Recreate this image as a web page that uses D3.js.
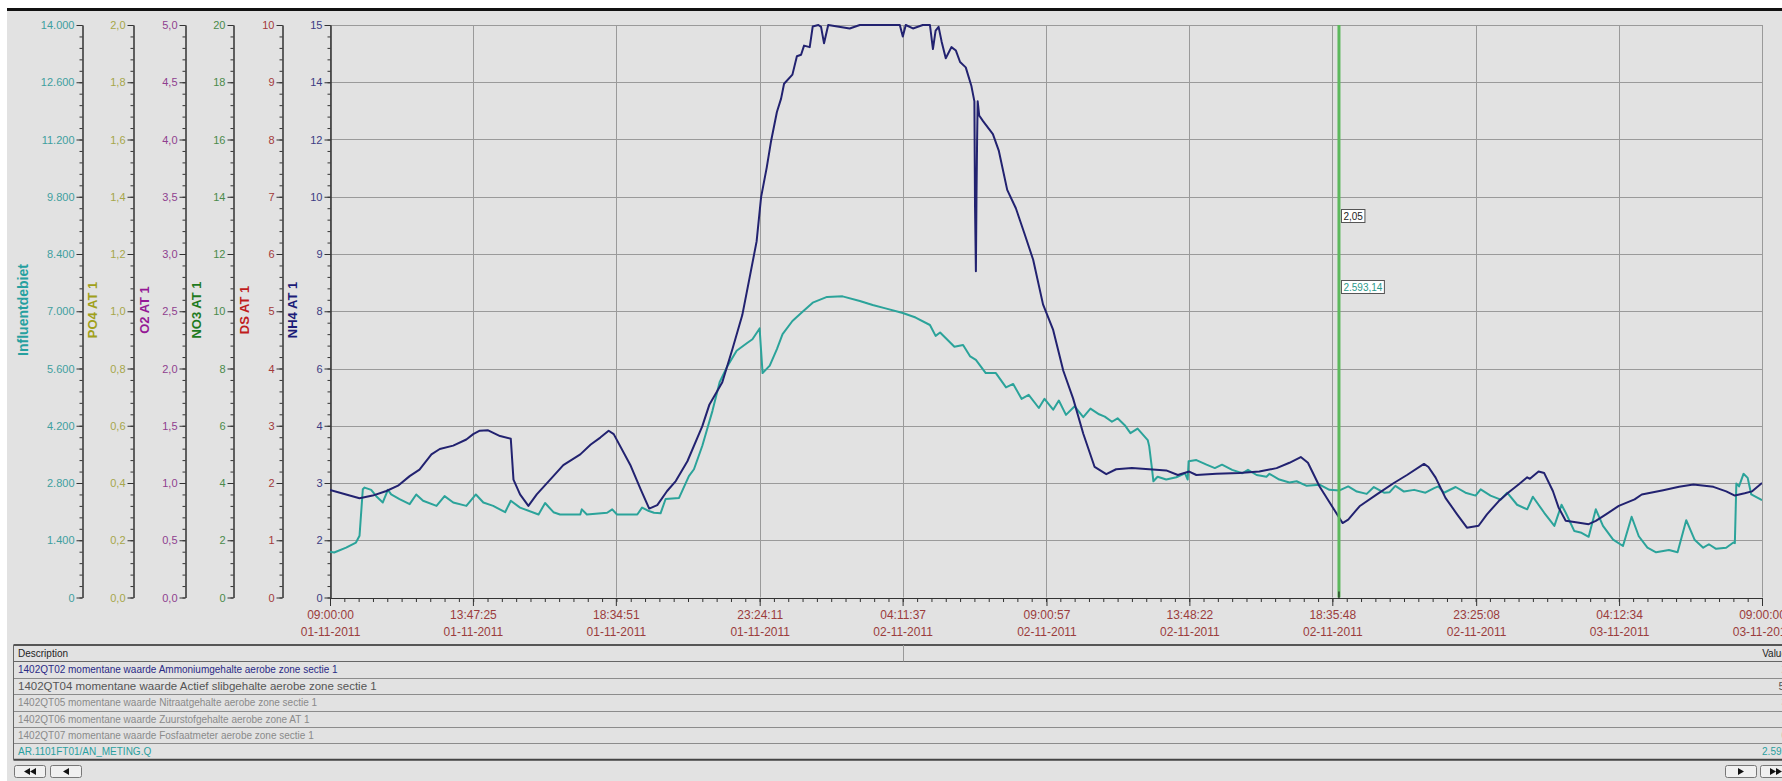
<!DOCTYPE html>
<html>
<head>
<meta charset="utf-8">
<script src="https://cdn.jsdelivr.net/npm/d3@7"></script>
<style>
body { margin: 0; background: #fff; }
svg { display: block; font-family: "Liberation Sans", Arial, sans-serif; }
</style>
</head>
<body>
<svg id="chart" width="1782" height="781"></svg>
<script>
// ---- data (hours after 01-11-2011 09:00:00, value) ----
var nh4Data = [[0,2.82],[0.54,2.70],[0.99,2.60],[1.43,2.67],[1.89,2.79],[2.28,2.93],[2.67,3.18],[3.00,3.35],[3.40,3.75],[3.68,3.89],[4.13,3.98],[4.57,4.14],[4.80,4.28],[5.02,4.37],[5.30,4.38],[5.70,4.23],[6.06,4.16],[6.15,3.09],[6.37,2.70],[6.65,2.40],[6.93,2.70],[7.38,3.09],[7.82,3.47],[8.39,3.75],[8.74,4.01],[9.06,4.19],[9.34,4.37],[9.51,4.28],[10.08,3.45],[10.41,2.84],[10.70,2.33],[10.97,2.42],[11.30,2.79],[11.59,3.05],[11.98,3.57],[12.48,4.49],[12.72,5.06],[13.15,5.64],[13.49,6.51],[13.82,7.40],[14.06,8.36],[14.30,9.33],[14.45,10.49],[14.64,11.27],[14.78,11.94],[14.98,12.72],[15.12,13.07],[15.22,13.46],[15.50,13.70],[15.65,14.18],[15.79,14.22],[15.89,14.46],[16.08,14.42],[16.18,14.96],[16.37,15],[16.46,14.95],[16.56,14.52],[16.70,15],[17.42,14.91],[17.76,15],[19.10,15],[19.20,14.70],[19.30,15],[19.54,14.91],[19.87,15],[20.11,15],[20.21,14.37],[20.30,14.85],[20.40,14.95],[20.50,14.57],[20.64,14.13],[20.83,14.42],[20.98,14.33],[21.12,14.03],[21.31,13.89],[21.50,13.40],[21.60,13.00],[21.62,10.29],[21.65,8.55],[21.67,10.5],[21.69,11.94],[21.71,13.00],[21.76,12.63],[21.89,12.48],[22.22,12.14],[22.42,11.70],[22.70,10.68],[22.99,10.20],[23.28,9.53],[23.57,8.85],[23.90,7.68],[24.24,7.01],[24.58,5.94],[24.91,5.21],[25.25,4.29],[25.63,3.42],[26.02,3.23],[26.35,3.36],[26.88,3.39],[27.46,3.36],[28.03,3.33],[28.42,3.21],[28.80,3.30],[29.04,3.21],[29.71,3.24],[30.48,3.26],[31.15,3.30],[31.73,3.39],[32.16,3.53],[32.54,3.68],[32.78,3.53],[33.17,2.91],[33.65,2.31],[33.94,1.95],[34.13,2.04],[34.51,2.39],[35.09,2.70],[35.66,3.00],[36.10,3.21],[36.67,3.50],[36.82,3.42],[37.06,3.14],[37.39,2.61],[37.78,2.18],[38.11,1.83],[38.50,1.88],[38.78,2.18],[39.17,2.52],[39.50,2.75],[39.84,2.96],[40.13,3.15],[40.22,3.11],[40.51,3.30],[40.70,3.26],[40.99,2.79],[41.18,2.36],[41.42,2.01],[41.76,1.97],[42.19,1.92],[42.43,2.01],[42.77,2.18],[43.20,2.40],[43.73,2.57],[43.97,2.70],[44.69,2.81],[45.22,2.90],[45.70,2.96],[46.37,2.90],[46.80,2.78],[47.09,2.67],[47.42,2.73],[47.66,2.78],[48,3.00]];

var flowData = [[0,1120],[0.14,1100],[0.54,1218],[0.87,1344],[0.99,1512],[1.10,2646],[1.16,2688],[1.38,2632],[1.55,2478],[1.77,2324],[1.94,2632],[2.05,2520],[2.33,2408],[2.67,2282],[2.89,2520],[3.12,2366],[3.57,2240],[3.84,2478],[4.13,2324],[4.57,2240],[4.89,2520],[5.14,2324],[5.47,2240],[5.87,2086],[6.06,2366],[6.37,2198],[6.99,2030],[7.21,2310],[7.49,2086],[7.71,2030],[8.39,2030],[8.44,2156],[8.61,2030],[9.29,2072],[9.46,2156],[9.62,2030],[10.30,2030],[10.46,2198],[10.69,2114],[10.86,2072],[11.08,2058],[11.25,2408],[11.70,2436],[12.03,2968],[12.20,3136],[12.48,3710],[12.67,4186],[12.82,4564],[13.06,5264],[13.30,5628],[13.63,6034],[13.97,6216],[14.16,6314],[14.40,6580],[14.50,5488],[14.74,5670],[14.98,6076],[15.17,6440],[15.50,6762],[15.84,6986],[16.18,7210],[16.66,7350],[17.18,7364],[17.76,7252],[18.19,7154],[18.62,7070],[19.20,6958],[19.63,6846],[20.11,6664],[20.30,6398],[20.45,6482],[20.93,6132],[21.22,6174],[21.46,5894],[21.65,5810],[21.98,5488],[22.32,5488],[22.66,5138],[22.90,5222],[23.18,4858],[23.42,4956],[23.76,4634],[23.95,4858],[24.24,4592],[24.43,4816],[24.67,4466],[24.96,4676],[25.25,4410],[25.49,4620],[25.78,4480],[25.97,4424],[26.21,4298],[26.40,4382],[26.64,4214],[26.83,4018],[27.07,4130],[27.41,3850],[27.46,3696],[27.55,3164],[27.60,2842],[27.74,2954],[28.03,2884],[28.37,2940],[28.66,3038],[28.75,2884],[28.78,3332],[29.04,3360],[29.38,3248],[29.66,3164],[29.90,3248],[30.24,3122],[30.58,3038],[30.77,3122],[31.06,2996],[31.39,2954],[31.49,3024],[31.82,2884],[32.16,2814],[32.40,2842],[32.74,2730],[33.17,2758],[33.50,2632],[33.84,2618],[34.13,2716],[34.42,2590],[34.75,2534],[34.99,2702],[35.33,2562],[35.52,2576],[35.71,2730],[36.00,2590],[36.34,2632],[36.72,2562],[37.01,2674],[37.15,2716],[37.34,2562],[37.73,2702],[38.06,2562],[38.40,2492],[38.57,2646],[38.90,2492],[39.24,2394],[39.46,2562],[39.79,2268],[40.13,2156],[40.32,2464],[40.70,2072],[41.04,1750],[41.28,2268],[41.42,2072],[41.71,1624],[41.95,1582],[42.19,1484],[42.43,2156],[42.67,1750],[43.01,1414],[43.34,1260],[43.63,1974],[43.87,1498],[44.16,1218],[44.45,1106],[44.88,1162],[45.17,1106],[45.46,1890],[45.74,1414],[46.03,1218],[46.22,1302],[46.46,1190],[46.80,1218],[47.04,1344],[47.09,1330],[47.14,2786],[47.23,2716],[47.38,3024],[47.52,2926],[47.64,2520],[48,2380]];

var timeLabels = ["09:00:00","13:47:25","18:34:51","23:24:11","04:11:37","09:00:57","13:48:22","18:35:48","23:25:08","04:12:34","09:00:00"];
var dateLabels = ["01-11-2011","01-11-2011","01-11-2011","01-11-2011","02-11-2011","02-11-2011","02-11-2011","02-11-2011","02-11-2011","03-11-2011","03-11-2011"];

var flowTicks = ["0","1.400","2.800","4.200","5.600","7.000","8.400","9.800","11.200","12.600","14.000"];
var po4Ticks = ["0,0","0,2","0,4","0,6","0,8","1,0","1,2","1,4","1,6","1,8","2,0"];
var o2Ticks = ["0,0","0,5","1,0","1,5","2,0","2,5","3,0","3,5","4,0","4,5","5,0"];
var no3Ticks = ["0","2","4","6","8","10","12","14","16","18","20"];
var dsTicks = ["0","1","2","3","4","5","6","7","8","9","10"];
var nh4Ticks = ["0","2","3","4","6","8","9","10","12","14","15"];

var descriptions = [
  "1402QT02 momentane waarde Ammoniumgehalte aerobe zone sectie 1",
  "1402QT04 momentane waarde Actief slibgehalte aerobe zone sectie 1",
  "1402QT05 momentane waarde Nitraatgehalte aerobe zone sectie 1",
  "1402QT06 momentane waarde Zuurstofgehalte aerobe zone AT 1",
  "1402QT07 momentane waarde Fosfaatmeter aerobe zone sectie 1",
  "AR.1101FT01/AN_METING.Q"
];
var rowValues = ["2,05", "5,12", "3,41", "1,36", "0,27", "2.593,14"];

var cursorTime = "02-11-2011 18:49:12";
var cursorNH4 = "2,05", cursorFlow = "2.593,14";

// ---- layout ----
var svg = d3.select("#chart");
var plot = {left: 330, right: 1762, top: 25, bottom: 597.5};
var parseTime = d3.timeParse("%d-%m-%Y %H:%M:%S");
var start = parseTime("01-11-2011 09:00:00"),
    end = parseTime("03-11-2011 09:00:00");
function hourToDate(h) { return new Date(+start + h * 3600e3); }

// panel background + black top rule
svg.append("rect").attr("x", 7).attr("y", 9).attr("width", 1775).attr("height", 772).attr("fill", "#e2e2e2");
svg.append("rect").attr("x", 7).attr("y", 8).attr("width", 1775).attr("height", 3).attr("fill", "#111");

var x = d3.scaleTime().domain([start, end]).range([plot.left, plot.right]);
var yNH4 = d3.scaleLinear().domain([0, 15]).range([plot.bottom, plot.top]);
var yFlow = d3.scaleLinear().domain([0, 14000]).range([plot.bottom, plot.top]);

var tickTimes = timeLabels.map(function(t, i) { return parseTime(dateLabels[i] + " " + t); });
var minorTimes = d3.range(101).map(function(i) { return new Date(+start + i * (end - start) / 100); });

// grid
var grid = svg.append("g").attr("stroke", "#9a9a9a").attr("stroke-width", 1);
grid.selectAll("line.h").data(d3.range(11)).enter().append("line")
    .attr("x1", plot.left).attr("x2", plot.right)
    .attr("y1", function(d) { return Math.round(yNH4(d * 1.5)) + 0.5; })
    .attr("y2", function(d) { return Math.round(yNH4(d * 1.5)) + 0.5; });
grid.selectAll("line.v").data(tickTimes).enter().append("line")
    .attr("y1", plot.top).attr("y2", plot.bottom)
    .attr("x1", function(d) { return Math.round(x(d)) + 0.5; })
    .attr("x2", function(d) { return Math.round(x(d)) + 0.5; });

// y axes
var axesDef = [
  {title: "Influentdebiet", max: 14000, labels: flowTicks, x: 82, tx: 23, color: "#3f9f9f", tcolor: "#26a0a0", tsize: 14},
  {title: "PO4 AT 1", max: 2, labels: po4Ticks, x: 133, tx: 92.5, color: "#a6a64a", tcolor: "#a0a01a", tsize: 13},
  {title: "O2 AT 1", max: 5, labels: o2Ticks, x: 185, tx: 144, color: "#8f3f8f", tcolor: "#951895", tsize: 13},
  {title: "NO3 AT 1", max: 20, labels: no3Ticks, x: 233, tx: 196, color: "#4a8a4a", tcolor: "#1f7a1f", tsize: 13},
  {title: "DS AT 1", max: 10, labels: dsTicks, x: 282, tx: 244, color: "#a33a3a", tcolor: "#c01c1c", tsize: 13},
  {title: "NH4 AT 1", max: 15, labels: nh4Ticks, x: 330, tx: 292, color: "#3c3c82", tcolor: "#1c1c78", tsize: 13}
];

axesDef.forEach(function(a) {
  var s = d3.scaleLinear().domain([0, a.max]).range([plot.bottom, plot.top]);
  var g = svg.append("g").attr("transform", "translate(" + (a.x + 0.5) + ",0)");
  g.append("g").call(d3.axisLeft(s)
      .tickValues(d3.range(51).map(function(i) { return i * a.max / 50; }))
      .tickSize(3).tickSizeOuter(0).tickFormat(""));
  g.append("g").call(d3.axisLeft(s)
      .tickValues(d3.range(11).map(function(i) { return i * a.max / 10; }))
      .tickSize(6).tickSizeOuter(0).tickPadding(2)
      .tickFormat(function(d, i) { return a.labels[i]; }));
  g.selectAll("path.domain").attr("stroke", "#333");
  g.selectAll(".tick line").attr("stroke", "#333");
  g.selectAll(".tick text").attr("fill", a.color).attr("font-size", 11)
      .attr("font-family", "Liberation Sans, Arial, sans-serif");
  svg.append("text")
      .attr("transform", "translate(" + a.tx + ",310) rotate(-90)")
      .attr("text-anchor", "middle").attr("dominant-baseline", "central")
      .attr("font-weight", "bold").attr("font-size", a.tsize)
      .attr("fill", a.tcolor).text(a.title);
});

// x axis
var xg = svg.append("g").attr("transform", "translate(0," + (plot.bottom + 0.5) + ")");
xg.append("g").call(d3.axisBottom(x).tickValues(minorTimes).tickSize(4).tickSizeOuter(0).tickFormat(""));
var xMajor = xg.append("g").call(d3.axisBottom(x).tickValues(tickTimes).tickSize(8).tickSizeOuter(0).tickFormat(""));
xg.selectAll("path.domain").attr("stroke", "#333");
xg.selectAll(".tick line").attr("stroke", "#333");
xMajor.selectAll(".tick text").remove();
xMajor.selectAll(".tick").append("text")
    .attr("fill", "#9b3c3c").attr("text-anchor", "middle").attr("font-size", 12)
    .attr("font-family", "Liberation Sans, Arial, sans-serif")
    .each(function(d, i) {
      var t = d3.select(this);
      t.append("tspan").attr("x", 0).attr("y", 21).text(timeLabels[i]);
      t.append("tspan").attr("x", 0).attr("y", 38).text(dateLabels[i]);
    });

// series
svg.append("clipPath").attr("id", "plotclip").append("rect")
    .attr("x", plot.left).attr("y", plot.top - 1)
    .attr("width", plot.right - plot.left).attr("height", plot.bottom - plot.top + 1);

var lineNH4 = d3.line()
    .x(function(d) { return x(hourToDate(d[0])); })
    .y(function(d) { return yNH4(d[1]); });
var lineFlow = d3.line()
    .x(function(d) { return x(hourToDate(d[0])); })
    .y(function(d) { return yFlow(d[1]); });

var series = svg.append("g").attr("clip-path", "url(#plotclip)");
series.append("path").datum(flowData).attr("d", lineFlow)
    .attr("fill", "none").attr("stroke", "#2ba39a").attr("stroke-width", 2).attr("stroke-linejoin", "round");
series.append("path").datum(nh4Data).attr("d", lineNH4)
    .attr("fill", "none").attr("stroke", "#222270").attr("stroke-width", 2).attr("stroke-linejoin", "round");

// cursor
var cx = x(parseTime(cursorTime));
svg.append("line").attr("x1", cx).attr("x2", cx).attr("y1", plot.top).attr("y2", plot.bottom)
    .attr("stroke", "#5cb85c").attr("stroke-width", 3);
svg.append("line").attr("x1", cx).attr("x2", cx).attr("y1", plot.bottom - 6).attr("y2", plot.bottom + 1)
    .attr("stroke", "#111").attr("stroke-width", 1);

function cursorLabel(txt, y, col) {
  var g = svg.append("g").attr("transform", "translate(" + (cx + 2.5) + "," + y + ")");
  var t = g.append("text").attr("x", 2).attr("y", 10).attr("font-size", 10)
      .attr("fill", col).text(txt);
  var w = t.node().getComputedTextLength();
  g.insert("rect", "text").attr("x", 0).attr("y", 0).attr("width", w + 4).attr("height", 13)
      .attr("fill", "#fff").attr("stroke", "#555").attr("stroke-width", 1);
}
cursorLabel(cursorNH4, 209.5, "#222");
cursorLabel(cursorFlow, 280.5, "#2a9a8a");

// ---- table ----
var tbl = svg.append("g");
var tTop = 645, rowH = 16.4, tLeft = 13.5, colDiv = 903.5;
var rowColors = ["#2a2a86", "#555", "#8a8a8a", "#8a8a8a", "#8a8a8a", "#2a9f9f"];
var rowSizes = [10, 11.5, 10, 10, 10, 10];

tbl.append("line").attr("x1", tLeft).attr("x2", 1782).attr("y1", tTop).attr("y2", tTop)
    .attr("stroke", "#555").attr("stroke-width", 2);
d3.range(1, 7).forEach(function(i) {
  tbl.append("line").attr("x1", tLeft).attr("x2", 1782)
      .attr("y1", Math.round(tTop + i * rowH) + 0.5).attr("y2", Math.round(tTop + i * rowH) + 0.5)
      .attr("stroke", i === 1 ? "#666" : "#8c8c8c").attr("stroke-width", 1);
});
tbl.append("line").attr("x1", tLeft).attr("x2", 1782).attr("y1", tTop + 7 * rowH).attr("y2", tTop + 7 * rowH)
    .attr("stroke", "#444").attr("stroke-width", 2);
tbl.append("line").attr("x1", tLeft).attr("x2", tLeft).attr("y1", tTop).attr("y2", tTop + 7 * rowH)
    .attr("stroke", "#666");
tbl.append("line").attr("x1", colDiv).attr("x2", colDiv).attr("y1", tTop).attr("y2", tTop + rowH)
    .attr("stroke", "#999");

tbl.append("text").attr("x", 18).attr("y", tTop + rowH - 4.5).attr("font-size", 10)
    .attr("fill", "#222").text("Description");
tbl.append("text").attr("x", 1787).attr("y", tTop + rowH - 4.5).attr("font-size", 10)
    .attr("text-anchor", "end").attr("fill", "#222").text("Value");

descriptions.forEach(function(d, i) {
  var base = tTop + (i + 2) * rowH - 4.5;
  tbl.append("text").attr("x", 18).attr("y", base).attr("font-size", rowSizes[i])
      .attr("fill", rowColors[i]).text(d);
  tbl.append("text").attr("x", 1801).attr("y", base).attr("font-size", rowSizes[i])
      .attr("text-anchor", "end").attr("fill", rowColors[i]).text(rowValues[i]);
});

// navigation buttons
function button(bx, dir, dbl) {
  var g = svg.append("g").attr("transform", "translate(" + bx + ",765.5)");
  g.append("rect").attr("width", 31).attr("height", 12).attr("rx", 2)
      .attr("fill", "#f0f0f0").attr("stroke", "#777");
  var offs = dbl ? [-3, 3] : [0];
  offs.forEach(function(o) {
    var c = 15.5 + o;
    var p = dir < 0 ? "M" + (c - 3) + ",6 L" + (c + 3) + ",2.5 L" + (c + 3) + ",9.5 Z"
                    : "M" + (c + 3) + ",6 L" + (c - 3) + ",2.5 L" + (c - 3) + ",9.5 Z";
    g.append("path").attr("d", p).attr("fill", "#111");
  });
}
button(14.5, -1, true);
button(50.5, -1, false);
button(1725.5, 1, false);
button(1760.5, 1, true);
</script>
</body>
</html>
